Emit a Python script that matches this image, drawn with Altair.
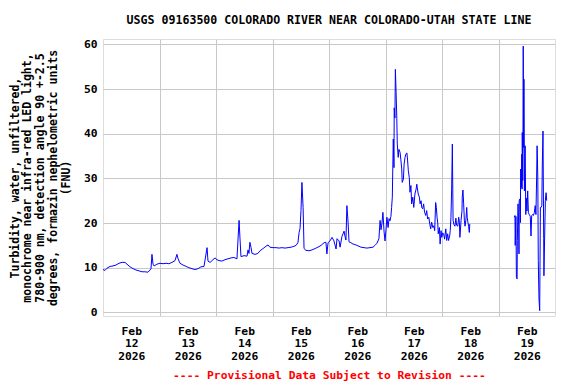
import altair as alt
import pandas as pd

TITLE = "USGS 09163500 COLORADO RIVER NEAR COLORADO-UTAH STATE LINE"
Y_TITLE = [
    "Turbidity, water, unfiltered,",
    "monochrome near infra-red LED light,",
    "780-900 nm, detection angle 90 +-2.5",
    "degrees, formazin nephelometric units",
    "(FNU)",
]
NOTE = "---- Provisional Data Subject to Revision ----"
MONTH = "Feb"
YEAR = "2026"
FIRST_DAY = 12

# hours since 2026-02-12 00:00
hours = [
    0.0, 0.85, 1.7, 3.0, 4.25, 5.5, 6.8, 8.1, 9.35, 10.2, 11.5, 12.75, 14.0, 15.3, 16.6, 17.8,
    19.1, 20.0, 20.4, 20.8, 21.25, 21.7, 22.9, 24.2, 25.5, 26.8, 28.0, 29.3, 30.6, 31.4, 31.9,
    32.7, 34.0, 35.3, 36.5, 37.8, 39.1, 40.4, 41.6, 42.9, 44.2, 44.6, 45.5, 46.7, 47.6, 48.4,
    49.3, 50.5, 51.8, 53.1, 54.4, 55.6, 56.9, 57.8, 58.2, 58.6, 59.9, 61.2, 61.6, 62.0, 62.4,
    62.9, 63.3, 64.6, 65.8, 66.7, 68.0, 69.2, 70.1, 70.9, 72.2, 73.5, 74.8, 76.0, 77.3, 78.6,
    79.9, 81.1, 82.0, 82.8, 83.3, 83.7, 84.1, 84.5, 85.0, 85.4, 86.2, 87.5, 88.8, 90.1, 91.3,
    92.6, 93.9, 94.7, 95.1, 95.6, 96.4, 97.3, 98.1, 99.0, 99.4, 100.3, 100.7, 101.5, 102.4,
    102.8, 103.2, 103.6, 104.1, 104.5, 105.3, 106.2, 107.0, 108.3, 109.6, 110.9, 112.1, 113.4,
    114.7, 115.5, 116.4, 117.2, 117.7, 118.1, 118.5, 118.9, 119.4, 119.8, 120.2, 120.6, 121.1,
    121.5, 121.9, 122.3, 122.6, 122.9, 123.3, 123.6, 123.7, 124.0, 124.2, 124.5, 124.8, 125.0,
    125.4, 125.7, 126.2, 126.5, 126.9, 127.1, 127.6, 127.9, 128.3, 128.7, 129.1, 129.4, 129.7,
    130.1, 130.4, 130.8, 131.1, 131.6, 132.0, 132.5, 133.0, 133.3, 133.5, 133.9, 134.4, 134.7,
    135.1, 135.4, 135.8, 136.2, 136.6, 137.1, 137.5, 137.9, 138.4, 138.8, 139.2, 139.6, 140.1,
    140.5, 140.9, 141.3, 141.6, 141.9, 142.2, 142.4, 142.9, 143.2, 143.6, 143.9, 144.3, 144.7,
    145.1, 145.6, 146.0, 146.4, 146.8, 147.3, 147.5, 147.8, 148.1, 148.4, 148.7, 149.1, 149.5,
    149.9, 150.2, 150.7, 151.1, 151.4, 151.6, 152.1, 152.5, 152.6, 152.9, 153.2, 153.5, 153.8,
    154.2, 154.5, 154.7, 155.0, 155.3, 155.6, 155.8,
    174.7, 175.0, 175.1, 175.4, 175.6, 175.9, 176.0, 176.3, 176.6, 176.7, 176.8, 177.1, 177.3,
    177.4, 177.7, 177.9, 178.0, 178.1, 178.3, 178.4, 178.5, 178.7, 178.8, 179.0, 179.3, 179.6,
    179.8, 180.1, 180.4, 180.7, 181.1, 181.5, 181.8, 182.1, 182.5, 182.8, 183.2, 183.6, 183.9,
    184.2, 184.4, 184.7, 184.9, 185.2, 185.5, 185.8, 186.1, 186.4, 186.6, 186.9, 187.2, 187.3,
    187.6, 187.9, 188.2, 188.5,
]

fnu = [
    9.6, 9.4, 9.9, 10.3, 10.4, 10.6, 11.0, 11.2, 11.2, 10.8, 10.2, 9.8, 9.5, 9.3, 9.1, 9.1,
    9.0, 9.5, 9.8, 13.0, 10.8, 10.4, 10.8, 11.0, 10.9, 11.0, 10.9, 11.2, 11.6, 13.0, 12.0,
    11.0, 10.6, 10.3, 10.0, 9.8, 9.6, 9.8, 10.2, 10.3, 14.5, 11.5, 11.2, 11.8, 12.2, 11.8,
    11.6, 11.5, 11.8, 12.0, 12.2, 12.3, 12.0, 20.6, 16.5, 12.5, 12.7, 12.6, 14.0, 13.2, 15.7,
    14.5, 13.2, 13.0, 13.2, 13.8, 14.3, 14.8, 15.1, 14.6, 14.5, 14.5, 14.4, 14.5, 14.4, 14.5,
    14.6, 14.8, 15.0, 15.6, 17.9, 18.8, 22.8, 29.1, 23.5, 14.3, 13.9, 13.8, 14.0, 14.3, 14.6,
    15.0, 15.6, 15.7, 13.1, 15.6, 16.0, 16.8, 16.0, 14.2, 16.5, 16.0, 14.6, 17.0, 18.2,
    17.0, 16.2, 23.9, 20.2, 15.8, 15.6, 15.3, 15.2, 14.9, 14.6, 14.5, 14.4, 14.5,
    14.6, 15.0, 15.5, 16.5, 20.6, 18.5, 20.0, 22.4, 18.0, 16.0, 18.5, 21.3, 19.0,
    21.0, 20.5, 21.5, 23.5, 25.8, 38.8, 32.4, 45.8, 43.5, 54.4, 49.2, 43.5, 37.7,
    34.7, 36.5, 35.8, 34.3, 32.1, 29.1, 29.8, 33.2, 34.7, 35.5, 35.7, 33.9, 31.7,
    30.2, 26.9, 28.4, 24.3, 25.8, 23.5, 26.5, 27.6, 28.7, 28.0, 26.5, 25.8, 24.3,
    25.0, 23.5, 23.2, 24.3, 22.4, 21.7, 22.8, 20.9, 21.3, 19.8, 18.7, 20.2, 19.0,
    19.4, 18.3, 24.6, 23.5, 21.3, 20.0, 17.6, 19.0, 15.3, 18.3, 16.8, 17.8, 17.6,
    16.4, 18.7, 16.1, 17.6, 16.1, 17.3, 18.3, 21.3, 27.6, 37.7, 20.6, 19.6, 19.3,
    21.1, 19.5, 19.3, 21.3, 20.2, 16.8, 20.6, 22.8, 25.8, 27.4, 24.3, 20.6, 19.3,
    21.0, 23.5, 21.3, 20.2, 19.3, 17.9, 19.8,
    21.3, 21.7, 15.0, 21.5, 7.9, 7.5, 16.1, 24.3, 19.0, 13.1, 25.0, 25.4, 20.1,
    32.1, 28.0, 35.4, 27.6, 40.3, 29.5, 39.2, 59.6, 36.9, 52.2, 27.2, 37.3, 21.9,
    25.6, 22.7, 27.2, 22.3, 21.9, 21.5, 17.1, 21.7, 21.9, 21.7, 22.3, 23.9, 21.9,
    30.1, 37.3, 30.1, 11.6, 3.0, 0.4, 23.5, 23.5, 23.9, 32.8, 40.6, 16.5, 8.2,
    16.9, 25.0, 26.8, 25.0,
]

y_ticks = [0, 10, 20, 30, 40, 50, 60]
x_ticks = list(range(12, 192, 12))  # noon labels and midnight grid lines

df = pd.DataFrame({"hours": hours, "fnu": fnu})
df["run"] = (df["hours"] > 160).astype(int)  # data gap on Feb 18-19

FONT = "DejaVu Sans Mono"
FS = 11.3

label_expr = (
    f"datum.value % 24 === 12 ? ['{MONTH}', '' + ({FIRST_DAY} + floor(datum.value / 24)), '{YEAR}'] : ''"
)

chart = (
    alt.Chart(df)
    .mark_line(color="#0000FF", strokeWidth=1)
    .encode(
        x=alt.X(
            "hours:Q",
            scale=alt.Scale(domain=[0, 192], nice=False, zero=False),
            axis=alt.Axis(
                values=x_ticks,
                ticks=False,
                domain=False,
                grid=True,
                gridColor="#C8C8C8",
                gridWidth=1,
                gridOpacity={"condition": {"test": "datum.value % 24 === 0", "value": 1}, "value": 0},
                labelExpr=label_expr,
                labelOverlap=False,
                labelFlush=False,
                labelBound=False,
                labelFont=FONT,
                labelFontSize=FS,
                labelFontWeight="bold",
                labelColor="black",
                labelLineHeight=12.7,
                labelPadding=9,
                title=NOTE,
                titleColor="#FF0000",
                titleFont=FONT,
                titleFontSize=FS,
                titleFontWeight="bold",
                titlePadding=8,
            ),
        ),
        y=alt.Y(
            "fnu:Q",
            scale=alt.Scale(domain=[-0.8, 61.2], nice=False, zero=False),
            axis=alt.Axis(
                values=y_ticks,
                ticks=False,
                domain=False,
                grid=True,
                gridColor="#C8C8C8",
                gridWidth=1,
                labelFont=FONT,
                labelFontSize=FS,
                labelFontWeight="bold",
                labelColor="black",
                labelPadding=6,
                title=Y_TITLE,
                titleFont=FONT,
                titleFontSize=11.5,
                titleFontWeight="bold",
                titleColor="black",
                titleLineHeight=12.8,
                titlePadding=12,
            ),
        ),
        detail="run:N",
    )
    .properties(
        width=452,
        height=277,
        autosize="none",
        padding={"left": 103, "top": 39, "right": 21, "bottom": 68},
        title=alt.Title(
            TITLE,
            font=FONT,
            fontSize=11.6,
            fontWeight="bold",
            color="black",
            anchor="middle",
            offset=12,
        ),
    )
    .configure_view(stroke="black", strokeWidth=1.5)
    .configure(background="white")
)

chart.save("out.html", embed_options={"renderer": "svg", "actions": False})
